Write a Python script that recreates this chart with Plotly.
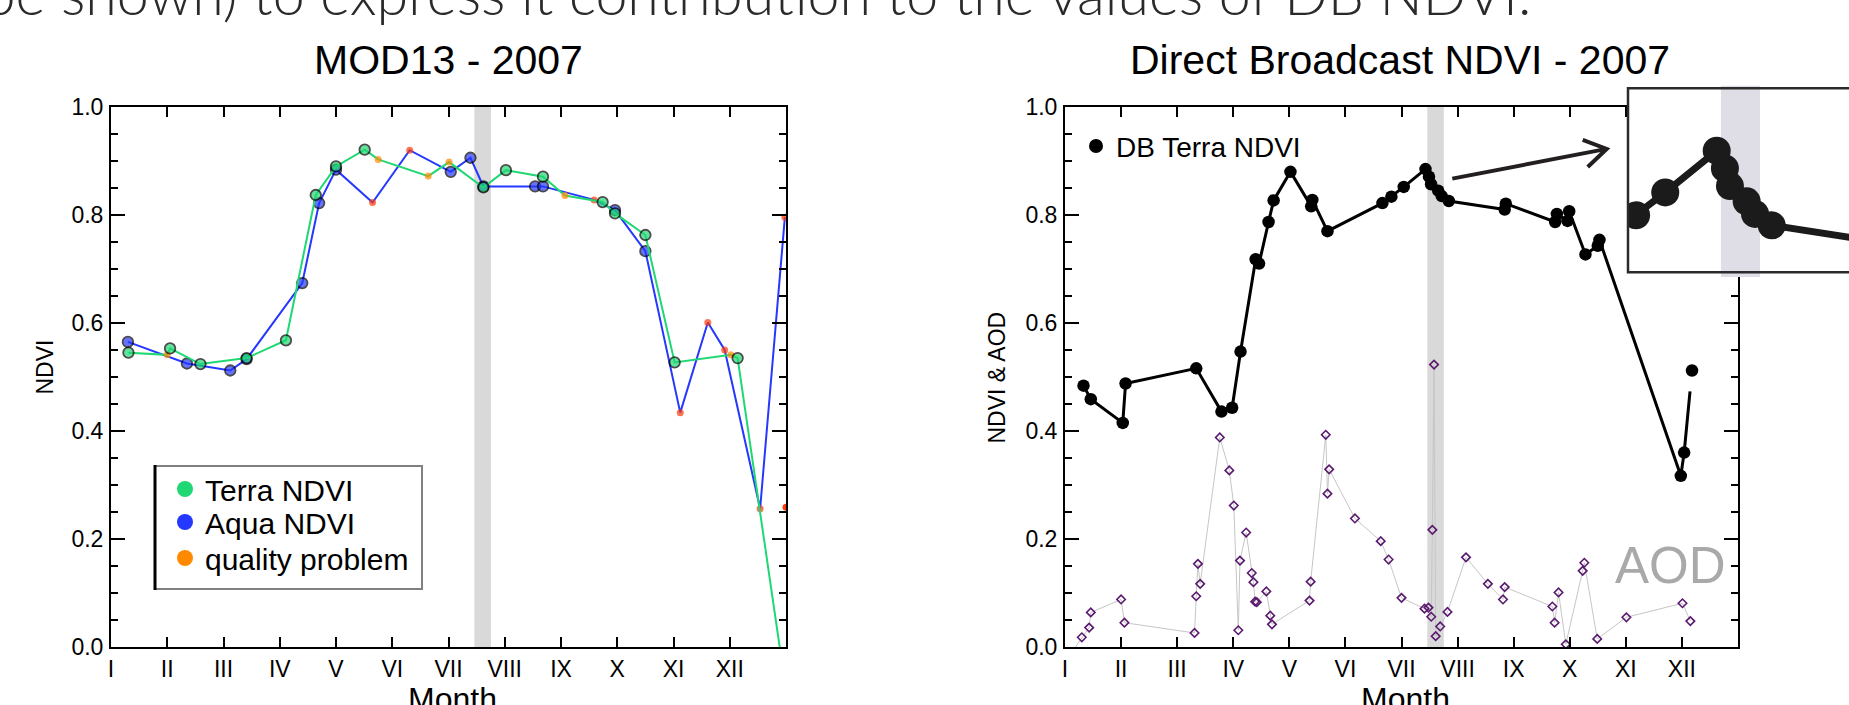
import plotly.graph_objects as go

W, H = 1849, 705

# ---------------- data ----------------
MONTH_LABELS = ["I", "II", "III", "IV", "V", "VI", "VII", "VIII", "IX", "X", "XI", "XII"]
MONTH_TICKS = list(range(12))
BAND = [6.46, 6.755]          # grey highlighted period (month axis)

# MOD13 Terra NDVI (qa: 0 good, 1 quality problem)
TERRA_MONTH = [0.31, 1.00, 1.05, 1.59, 2.41, 3.11, 3.64, 4.00, 4.51, 4.75, 5.64, 6.01,
               6.62, 7.02, 7.68, 8.07, 8.74, 8.96, 9.50, 10.02, 11.02, 11.14, 12.00]
TERRA_NDVI = [0.545, 0.541, 0.553, 0.524, 0.535, 0.568, 0.837, 0.890, 0.921, 0.903, 0.872, 0.898,
              0.851, 0.883, 0.871, 0.836, 0.824, 0.803, 0.763, 0.527, 0.541, 0.535, -0.08]
TERRA_QA = [0, 1, 0, 0, 0, 0, 0, 0, 0, 1, 1, 1,
            0, 0, 0, 1, 0, 0, 0, 0, 1, 0, 0]

# MOD13 Aqua NDVI (qa: 0 good, 2 quality problem)
AQUA_MONTH = [0.30, 1.35, 2.12, 2.41, 3.40, 3.70, 4.00, 4.65, 5.31, 6.04, 6.39, 6.62,
              7.54, 7.68, 8.59, 8.96, 9.50, 10.12, 10.61, 10.91, 11.54, 11.98]
AQUA_NDVI = [0.565, 0.525, 0.512, 0.533, 0.674, 0.822, 0.884, 0.823, 0.920, 0.880, 0.906, 0.853,
             0.853, 0.853, 0.828, 0.809, 0.733, 0.434, 0.601, 0.550, 0.256, 0.796]
AQUA_QA = [0, 0, 0, 0, 0, 0, 0, 2, 2, 0, 0, 0,
           0, 0, 2, 0, 0, 2, 2, 2, 2, 2]
EDGE_MONTH = [12.0]
EDGE_NDVI = [0.259]

# Direct Broadcast Terra NDVI
DB_MONTH = [0.33, 0.46, 1.03, 1.08, 2.34, 2.79, 2.98, 3.13, 3.40, 3.46, 3.63, 3.72, 4.02,
            4.39, 4.41, 4.68, 5.66, 5.82, 6.04, 6.428, 6.49, 6.528, 6.654, 6.717, 6.843,
            7.84, 7.86, 8.74, 8.77, 8.96, 8.99, 9.28, 9.50, 9.53, 10.98, 11.04, 11.18]
DB_NDVI = [0.484, 0.459, 0.415, 0.488, 0.516, 0.436, 0.443, 0.547, 0.718, 0.710, 0.787, 0.827, 0.880,
           0.816, 0.828, 0.770, 0.822, 0.834, 0.852, 0.885, 0.871, 0.857, 0.845, 0.835, 0.826,
           0.810, 0.821, 0.787, 0.802, 0.789, 0.807, 0.727, 0.743, 0.754, 0.317, 0.360, 0.512]

# Aerosol optical depth
AOD_MONTH = [0.12, 0.30, 0.43, 0.46, 1.00, 1.06, 2.31, 2.34, 2.37, 2.41, 2.76, 2.93, 3.01, 3.09,
             3.12, 3.23, 3.33, 3.36, 3.39, 3.42, 3.59, 3.66, 3.69, 4.36, 4.38, 4.65, 4.68, 4.71,
             5.17, 5.63, 5.77, 6.00, 6.41, 6.48, 6.53, 6.55, 6.58, 6.61, 6.69, 6.82, 7.15, 7.54,
             7.81, 7.84, 8.69, 8.73, 8.80, 8.93, 9.23, 9.26, 9.49, 10.01, 11.01, 11.15]
AOD = [-0.01, 0.018, 0.036, 0.064, 0.088, 0.045, 0.026, 0.094, 0.154, 0.117, 0.388, 0.327, 0.262, 0.031,
       0.160, 0.212, 0.137, 0.120, 0.084, 0.083, 0.103, 0.058, 0.042, 0.086, 0.121, 0.393, 0.284, 0.329,
       0.238, 0.196, 0.162, 0.091, 0.071, 0.073, 0.056, 0.217, 0.523, 0.020, 0.038, 0.065, 0.166, 0.117,
       0.088, 0.111, 0.075, 0.045, 0.101, 0.005, 0.141, 0.156, 0.015, 0.055, 0.081, 0.048]

LEGEND_NAMES = ["Terra NDVI", "Aqua NDVI", "quality problem"]

# ---------------- style ----------------
GREEN = "#1fd873"
BLUE = "#2438ff"
ORANGE = "#ff8a00"
RED = "#ff3a0a"
FONT = "Liberation Sans, Arial, Helvetica, sans-serif"
QA_COLOR = {1: ORANGE, 2: RED}


def fx(x):
    return x / W


def fy(y):
    return 1 - y / H


INSET_X = [5.759, 7.426]
INSET_Y = [0.7852, 0.9365]

fig = go.Figure()


def series(months, vals, qa, color, xa, ya):
    fig.add_trace(go.Scatter(
        x=months, y=vals, mode="lines+markers", xaxis=xa, yaxis=ya, showlegend=False,
        line=dict(color=color, width=2),
        marker=dict(
            color=[color if q == 0 else QA_COLOR[q] for q in qa],
            size=[10.5 if q == 0 else 7 for q in qa],
            line=dict(color="black", width=[1.8 if q == 0 else 0 for q in qa]),
        ),
    ))


# left panel
series(AQUA_MONTH, AQUA_NDVI, AQUA_QA, BLUE, "x", "y")
series(TERRA_MONTH, TERRA_NDVI, TERRA_QA, GREEN, "x", "y")
fig.add_trace(go.Scatter(x=EDGE_MONTH, y=EDGE_NDVI, mode="markers", xaxis="x", yaxis="y",
                         showlegend=False, marker=dict(color=RED, size=7)))

# legend entries (left) - one legend per row so the rows sit where the reference has them
for name, col, lg in zip(LEGEND_NAMES, [GREEN, BLUE, ORANGE], ["legend", "legend3", "legend4"]):
    fig.add_trace(go.Scatter(x=[None], y=[None], mode="markers", name=name, xaxis="x", yaxis="y",
                             marker=dict(color=col, size=16), legend=lg))

# right panel: AOD
fig.add_trace(go.Scatter(
    x=AOD_MONTH, y=AOD, mode="lines+markers", xaxis="x2", yaxis="y2", showlegend=False,
    line=dict(color="#c6c6c6", width=1),
    marker=dict(symbol="diamond-open", size=6.5, color="#5a1a6e", line=dict(width=1.6)),
))
# DB NDVI
fig.add_trace(go.Scatter(
    x=DB_MONTH, y=DB_NDVI, mode="lines", xaxis="x2", yaxis="y2", showlegend=False,
    line=dict(color="black", width=3),
))
fig.add_trace(go.Scatter(
    x=DB_MONTH[-1:], y=DB_NDVI[-1:], mode="markers", xaxis="x2", yaxis="y2", showlegend=False,
    marker=dict(color="white", size=42), hoverinfo="skip",
))
fig.add_trace(go.Scatter(
    x=DB_MONTH, y=DB_NDVI, mode="markers", xaxis="x2", yaxis="y2", showlegend=False,
    marker=dict(color="black", size=12.5),
))
fig.add_trace(go.Scatter(x=[None], y=[None], mode="markers", name="DB Terra NDVI",
                         xaxis="x2", yaxis="y2", marker=dict(color="black", size=14),
                         legend="legend2"))

# inset (zoom of DB NDVI)
fig.add_trace(go.Scatter(
    x=DB_MONTH, y=DB_NDVI, mode="lines+markers", xaxis="x3", yaxis="y3", showlegend=False,
    line=dict(color="#1b1b1b", width=7), marker=dict(color="#1b1b1b", size=28),
))


# ---------------- axes ----------------
def xax(domain, anchor):
    return dict(domain=domain, anchor=anchor, range=[0, 12], tickmode="array",
                tickvals=MONTH_TICKS, ticktext=MONTH_LABELS, ticks="inside", ticklen=10,
                tickwidth=1.5, tickcolor="black", mirror="ticks", showline=True,
                linewidth=2, linecolor="black", showgrid=False, zeroline=False,
                tickfont=dict(size=23, color="black", family=FONT), ticklabelstandoff=0,
                automargin=False)


def yax(domain, anchor):
    return dict(domain=domain, anchor=anchor, range=[0, 1], tickmode="linear", tick0=0,
                dtick=0.2, tickformat=".1f", ticks="inside", ticklen=14, tickwidth=1.5,
                tickcolor="black", mirror="ticks", showline=True, linewidth=2,
                linecolor="black", showgrid=False, zeroline=False, automargin=False,
                tickfont=dict(size=23, color="black", family=FONT), ticklabelstandoff=1,
                minor=dict(tick0=0, dtick=0.05, ticks="inside", ticklen=7, tickwidth=1.5,
                           tickcolor="black", showgrid=False))


def legend_at(left, center, size):
    top = center - (1.3 * size + 3) / 2 - 5
    return dict(x=fx(left), y=fy(top), xanchor="left", yanchor="top",
                bgcolor="rgba(0,0,0,0)", borderwidth=0,
                font=dict(size=size, family=FONT, color="black"))


YDOM = [fy(647), fy(107)]
fig.update_layout(
    width=W, height=H, margin=dict(l=0, r=0, t=0, b=0, pad=0, autoexpand=False),
    paper_bgcolor="white", plot_bgcolor="white",
    font=dict(family=FONT, color="black"),
    xaxis=xax([fx(111), fx(786)], "y"),
    yaxis=yax(YDOM, "x"),
    xaxis2=xax([fx(1065), fx(1738)], "y2"),
    yaxis2=yax(YDOM, "x2"),
    xaxis3=dict(domain=[fx(1628), 1.0], anchor="y3", range=INSET_X, visible=False),
    yaxis3=dict(domain=[fy(277), fy(85.5)], anchor="x3", range=INSET_Y, visible=False),
    legend=legend_at(165, 489, 30),
    legend3=legend_at(165, 522, 30),
    legend4=legend_at(165, 558, 30),
    legend2=legend_at(1076, 146, 28),
    showlegend=True,
)

shapes = [
    dict(type="rect", xref="x", yref="y", x0=BAND[0], x1=BAND[1], y0=0, y1=1,
         fillcolor="#d9d9d9", line=dict(width=0), layer="below"),
    dict(type="rect", xref="x2", yref="y2", x0=BAND[0], x1=BAND[1], y0=0, y1=1,
         fillcolor="#d9d9d9", line=dict(width=0), layer="below"),
    dict(type="rect", xref="x3", yref="y3", x0=BAND[0], x1=BAND[1], y0=INSET_Y[0], y1=INSET_Y[1],
         fillcolor="#dfdde5", line=dict(width=0), layer="below"),
    # inset frame
    dict(type="rect", xref="paper", yref="paper", x0=fx(1628), x1=fx(1870), y0=fy(272.3), y1=fy(88.3),
         line=dict(color="#2b2b2b", width=2.5), fillcolor="rgba(0,0,0,0)", layer="above"),
    # legend box
    dict(type="rect", xref="paper", yref="paper", x0=fx(155), x1=fx(422), y0=fy(589), y1=fy(466),
         line=dict(color="#808080", width=2), fillcolor="rgba(0,0,0,0)", layer="above"),
    dict(type="line", xref="paper", yref="paper", x0=fx(155), x1=fx(155), y0=fy(590), y1=fy(465),
         line=dict(color="black", width=3), layer="above"),
    # arrow
    dict(type="path", xref="paper", yref="paper",
         path=(f"M{fx(1452.3)},{fy(178.6)} L{fx(1606.7)},{fy(148.9)} "
               f"M{fx(1582.7)},{fy(139.9)} L{fx(1606.7)},{fy(148.9)} L{fx(1587.7)},{fy(167.0)}"),
         line=dict(color="#231f20", width=4), layer="above"),
]
fig.update_layout(shapes=shapes)

ann = [
    dict(text="be shown) to express it contribution to the values of DB NDVI.",
         x=fx(1533), y=fy(29.5), xanchor="right", yanchor="bottom",
         font=dict(family="Lato, Open Sans, sans-serif", size=57.3, color="#2a2a2a", weight=300)),
    dict(text="MOD13 - 2007", x=fx(448.5), y=fy(60), xanchor="center", yanchor="middle",
         font=dict(size=41)),
    dict(text="Direct Broadcast NDVI - 2007", x=fx(1400), y=fy(60), xanchor="center",
         yanchor="middle", font=dict(size=41)),
    dict(text="NDVI", x=fx(44), y=fy(367.5), xanchor="center", yanchor="middle", textangle=-90,
         font=dict(size=23)),
    dict(text="NDVI &amp; AOD", x=fx(996), y=fy(377.5), xanchor="center", yanchor="middle",
         textangle=-90, font=dict(size=23)),
    dict(text="Month", x=fx(452.6), y=fy(698.5), xanchor="center", yanchor="middle",
         font=dict(size=32)),
    dict(text="Month", x=fx(1405), y=fy(699), xanchor="center", yanchor="middle",
         font=dict(size=32)),
    dict(text="AOD", x=fx(1670), y=fy(565), xanchor="center", yanchor="middle",
         font=dict(size=51, color="#a9a9a9")),
]
for a in ann:
    a.update(xref="paper", yref="paper", showarrow=False)
fig.update_layout(annotations=ann)

fig.write_html("out.html", config={"displayModeBar": False},
               post_script="document.body.style.margin='0';document.body.style.overflow='hidden';")
